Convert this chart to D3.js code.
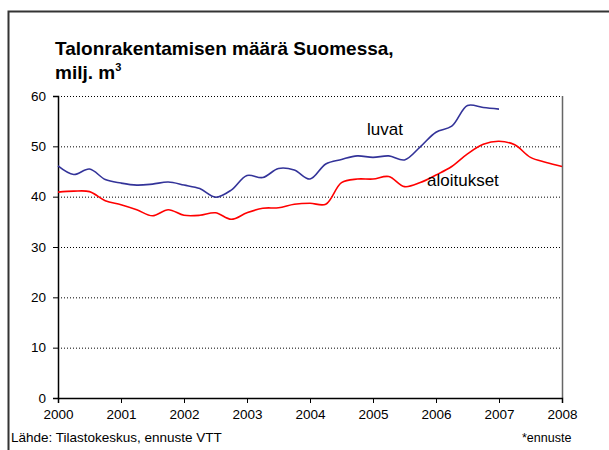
<!DOCTYPE html>
<html>
<head>
<meta charset="utf-8">
<script src="https://cdn.jsdelivr.net/npm/d3@7"></script>
<style>
  body { margin: 0; background: #fff; }
  svg { display: block; font-family: "Liberation Sans", Arial, sans-serif; }
</style>
</head>
<body>
<svg id="chart" width="609" height="450"></svg>
<script>
// quarterly points, 2000.00 .. 2008.00
const quarters = d3.range(0, 33).map((i) => 2000 + i / 4);
const luvat = [46.1, 44.4, 45.5, 43.4, 42.7, 42.3, 42.5, 42.9, 42.3, 41.6, 39.9, 41.3,
  44.2, 43.8, 45.6, 45.3, 43.5, 46.5, 47.4, 48.1, 47.8, 48.1, 47.3, 49.9,
  52.8, 54.0, 58.1, 57.7, 57.4];
const aloitukset = [40.9, 41.1, 41.0, 39.2, 38.4, 37.4, 36.2, 37.4, 36.3, 36.3, 36.8, 35.5,
  36.8, 37.7, 37.8, 38.5, 38.7, 38.5, 42.8, 43.5, 43.5, 44.0, 42.0, 42.8,
  44.3, 46.0, 48.5, 50.4, 51.0, 50.3, 47.8, 46.8, 46.0];
const yearTicks = d3.range(2000, 2009);
const valueTicks = [0, 10, 20, 30, 40, 50, 60];

const svg = d3.select("#chart");
const x = d3.scaleLinear().domain([2000, 2008]).range([58, 562]);
const y = d3.scaleLinear().domain([0, 60]).range([398, 96]);

// outer frame (runs off the right and bottom edge)
svg.append("rect")
  .attr("x", 8.5).attr("y", 11.5)
  .attr("width", 640).attr("height", 480)
  .attr("fill", "none").attr("stroke", "#333").attr("stroke-width", 2);

// title
const title = svg.append("text").attr("font-weight", "bold").attr("font-size", 19).attr("fill", "#000");
title.append("tspan").attr("x", 55).attr("y", 55).text("Talonrakentamisen määrä Suomessa,");
title.append("tspan").attr("x", 55).attr("y", 79).text("milj. m");
title.append("tspan").attr("font-size", 11).attr("dy", -8).text("3");

// gridlines
svg.append("g")
  .selectAll("line")
  .data(valueTicks.filter((d) => d > 0))
  .join("line")
  .attr("x1", x(2000)).attr("x2", x(2008))
  .attr("y1", (d) => y(d) + 0.5).attr("y2", (d) => y(d) + 0.5)
  .attr("stroke", "#000").attr("stroke-width", 1).attr("stroke-dasharray", "1,2");

// right border of plot
svg.append("line")
  .attr("x1", x(2008) + 0.5).attr("x2", x(2008) + 0.5)
  .attr("y1", y(60)).attr("y2", y(0))
  .attr("stroke", "#666").attr("stroke-width", 1.5);

// axes
const xAxis = svg.append("g")
  .attr("transform", `translate(0,${y(0)})`)
  .call(d3.axisBottom(x).tickValues(yearTicks).tickFormat(d3.format("d")).tickSize(5).tickPadding(6));
const yAxis = svg.append("g")
  .attr("transform", `translate(${x(2000)},0)`)
  .call(d3.axisLeft(y).tickValues(valueTicks).tickSize(5).tickPadding(7));

[xAxis, yAxis].forEach((g) => {
  g.select(".domain").attr("stroke", "#000").attr("stroke-width", 1.5);
  g.selectAll(".tick line").attr("stroke", "#000");
  g.selectAll(".tick text")
    .attr("font-family", "'Liberation Sans', Arial, sans-serif")
    .attr("font-size", 13.5).attr("fill", "#000");
});

// series
const line = d3.line()
  .x((d, i) => x(quarters[i]))
  .y((d) => y(d))
  .curve(d3.curveCatmullRom.alpha(0.5));

svg.append("path").datum(aloitukset)
  .attr("d", line).attr("fill", "none")
  .attr("stroke", "#ff0000").attr("stroke-width", 1.6);
svg.append("path").datum(luvat)
  .attr("d", line).attr("fill", "none")
  .attr("stroke", "#333399").attr("stroke-width", 1.6);

// series labels
svg.append("text").attr("x", 367).attr("y", 135).attr("font-size", 17).text("luvat");
svg.append("text").attr("x", 427).attr("y", 186).attr("font-size", 17).text("aloitukset");

// notes
svg.append("text").attr("x", 11).attr("y", 442).attr("font-size", 13.5).text("Lähde: Tilastokeskus, ennuste VTT");
svg.append("text").attr("x", 522).attr("y", 442).attr("font-size", 12.5).text("*ennuste");
</script>
</body>
</html>
